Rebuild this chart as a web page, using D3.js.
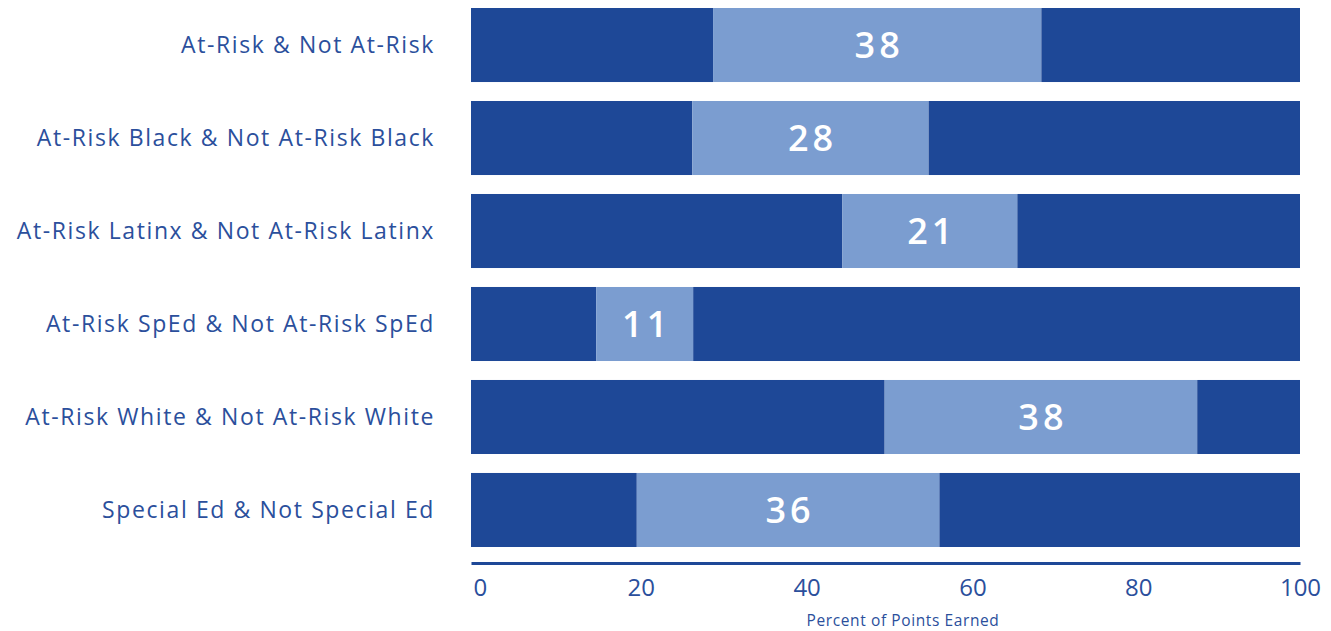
<!DOCTYPE html>
<html>
<head>
<meta charset="utf-8">
<script src="https://cdn.jsdelivr.net/npm/d3@7"></script>
<style>
  body { margin: 0; background: #fff; }
  text { font-family: "Open Sans", "Noto Sans", sans-serif; }
</style>
</head>
<body>
<div id="chart"></div>
<script>
// Categories (top to bottom)
const categories = [
    "At-Risk & Not At-Risk",
    "At-Risk Black & Not At-Risk Black",
    "At-Risk Latinx & Not At-Risk Latinx",
    "At-Risk SpEd & Not At-Risk SpEd",
    "At-Risk White & Not At-Risk White",
    "Special Ed & Not Special Ed"
];
// Lower group score, higher group score (percent of points earned)
const lowValues  = [29.2, 26.7, 44.8, 15.1, 49.9, 20.0];
const highValues = [68.8, 55.2, 65.9, 26.8, 87.6, 56.5];
// Gap labels shown in the light segment
const gapLabels  = [38, 28, 21, 11, 38, 36];
const xTicks = [0, 20, 40, 60, 80, 100];

const dark = "#1e4897";
const light = "#7b9dd0";
const textColour = "#2b4f9c";

var width = 1331, height = 631;
var margin = {left: 471, right: 31};

let svg = d3.select("#chart")
    .append("svg")
    .attr("width", width)
    .attr("height", height);

var x = d3.scaleLinear()
    .domain([0, 100])
    .range([margin.left, width - margin.right]);

var y = d3.scaleBand()
    .domain(categories)
    .range([8, 547])
    .paddingInner(0.204)
    .paddingOuter(0);

let rows = categories.map((c, i) => ({
    cat: c, low: lowValues[i], high: highValues[i], gap: gapLabels[i]
}));

// Segments: dark 0->low, light low->high, dark high->100
let segs = rows.flatMap((d) => [
    {cat: d.cat, x0: 0, x1: d.low, fill: dark},
    {cat: d.cat, x0: d.low, x1: d.high, fill: light},
    {cat: d.cat, x0: d.high, x1: 100, fill: dark}
]);

svg.append("g")
    .selectAll("rect")
    .data(segs)
    .enter()
    .append("rect")
    .attr("x", (d) => x(d.x0))
    .attr("y", (d) => y(d.cat))
    .attr("width", (d) => x(d.x1) - x(d.x0))
    .attr("height", y.bandwidth())
    .attr("fill", (d) => d.fill);

// Gap labels
svg.append("g")
    .selectAll("text")
    .data(rows)
    .enter()
    .append("text")
    .attr("x", (d) => (x(d.low) + x(d.high)) / 2 + 2)
    .attr("y", (d) => y(d.cat) + y.bandwidth() / 2)
    .attr("dy", "0.36em")
    .attr("text-anchor", "middle")
    .style("font-size", "36px")
    .style("font-weight", 600)
    .style("letter-spacing", "4px")
    .style("fill", "#fff")
    .text((d) => d.gap);

// Category labels
svg.append("g")
    .selectAll("text")
    .data(categories)
    .enter()
    .append("text")
    .attr("x", 435)
    .attr("y", (d) => y(d) + y.bandwidth() / 2)
    .attr("dy", "0.35em")
    .attr("text-anchor", "end")
    .style("font-size", "23px")
    .style("letter-spacing", "1.6px")
    .style("fill", textColour)
    .text((d) => d);

// X axis
let xAxis = svg.append("g")
    .attr("transform", "translate(0,563)")
    .call(d3.axisBottom(x).tickValues(xTicks).tickSize(0).tickPadding(16));

xAxis.select(".domain")
    .attr("stroke", dark)
    .attr("stroke-width", 3);

xAxis.selectAll(".tick text")
    .style("font-size", "24px")
    .style("font-family", "'Open Sans', sans-serif")
    .style("fill", textColour)
    .attr("text-anchor", (d) => d == 0 ? "start" : "middle")
    .attr("dx", (d) => d == 0 ? 2 : (d == 100 ? 0 : 4));

// X axis label
svg.append("text")
    .attr("x", 903)
    .attr("y", 626)
    .attr("text-anchor", "middle")
    .style("font-size", "15.5px")
    .style("letter-spacing", "0.6px")
    .style("fill", textColour)
    .text("Percent of Points Earned");
</script>
</body>
</html>
